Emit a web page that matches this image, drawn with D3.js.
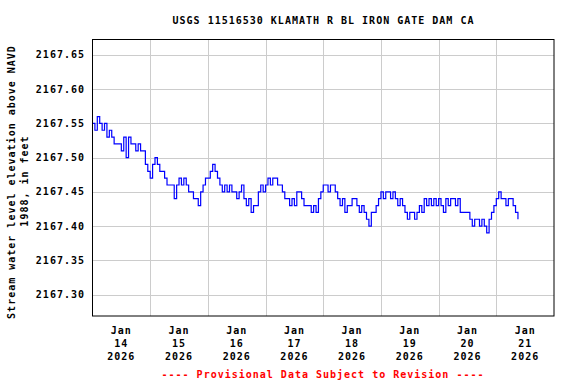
<!DOCTYPE html>
<html>
<head>
<meta charset="utf-8">
<script src="https://cdn.jsdelivr.net/npm/d3@7"></script>
<style>
  body { margin: 0; background: #fff; }
  svg text { font-family: "DejaVu Sans Mono", monospace; font-weight: bold; font-size: 10px; letter-spacing: 1px; }
</style>
</head>
<body>
<div id="chart"></div>
<script>
// hourly readings (ft), starting Jan 14 2026 00:00
var jan14 = [2167.55, 2167.54, 2167.56, 2167.55, 2167.54, 2167.55, 2167.53, 2167.54, 2167.53, 2167.52, 2167.52, 2167.52,
             2167.51, 2167.53, 2167.50, 2167.53, 2167.52, 2167.52, 2167.51, 2167.52, 2167.51, 2167.51, 2167.49, 2167.48];
var jan15 = [2167.47, 2167.49, 2167.50, 2167.49, 2167.48, 2167.48, 2167.47, 2167.46, 2167.46, 2167.46, 2167.44, 2167.46,
             2167.47, 2167.46, 2167.47, 2167.46, 2167.45, 2167.45, 2167.44, 2167.44, 2167.43, 2167.45, 2167.46, 2167.47];
var jan16 = [2167.47, 2167.48, 2167.49, 2167.48, 2167.47, 2167.46, 2167.45, 2167.46, 2167.45, 2167.46, 2167.45, 2167.45,
             2167.44, 2167.45, 2167.46, 2167.44, 2167.43, 2167.44, 2167.42, 2167.43, 2167.43, 2167.45, 2167.46, 2167.45];
var jan17 = [2167.46, 2167.47, 2167.46, 2167.47, 2167.47, 2167.46, 2167.46, 2167.45, 2167.44, 2167.44, 2167.43, 2167.44,
             2167.43, 2167.45, 2167.45, 2167.44, 2167.43, 2167.43, 2167.43, 2167.42, 2167.43, 2167.42, 2167.44, 2167.45];
var jan18 = [2167.46, 2167.46, 2167.45, 2167.46, 2167.46, 2167.45, 2167.44, 2167.43, 2167.44, 2167.42, 2167.43, 2167.43,
             2167.44, 2167.44, 2167.43, 2167.42, 2167.43, 2167.42, 2167.41, 2167.40, 2167.42, 2167.42, 2167.43, 2167.44];
var jan19 = [2167.45, 2167.44, 2167.45, 2167.45, 2167.44, 2167.45, 2167.44, 2167.43, 2167.44, 2167.43, 2167.42, 2167.41,
             2167.42, 2167.42, 2167.41, 2167.42, 2167.43, 2167.42, 2167.44, 2167.43, 2167.44, 2167.43, 2167.44, 2167.43];
var jan20 = [2167.44, 2167.43, 2167.42, 2167.44, 2167.43, 2167.44, 2167.44, 2167.43, 2167.44, 2167.42, 2167.42, 2167.42,
             2167.42, 2167.41, 2167.40, 2167.41, 2167.41, 2167.40, 2167.41, 2167.40, 2167.39, 2167.41, 2167.42, 2167.43];
var jan21 = [2167.44, 2167.45, 2167.44, 2167.44, 2167.43, 2167.44, 2167.44, 2167.43, 2167.42, 2167.41];

var yTicks = [2167.30, 2167.35, 2167.40, 2167.45, 2167.50, 2167.55, 2167.60, 2167.65];
var tickDays = ["14", "15", "16", "17", "18", "19", "20", "21"];
var tickMonth = "Jan";
var tickYear = "2026";

var title = "USGS 11516530 KLAMATH R BL IRON GATE DAM CA";
var yTitle = ["Stream water level elevation above NAVD", "1988, in feet"];
var footer = "---- Provisional Data Subject to Revision ----";

var width = 576, height = 384;
var margin = {left: 92.5, right: 22, top: 39.5, bottom: 68};

var values = [].concat(jan14, jan15, jan16, jan17, jan18, jan19, jan20, jan21);
var t0 = Date.UTC(2026, 0, 14);
var data = values.map(function(v, i) { return {t: new Date(t0 + i * 3600000), v: v}; });

var x = d3.scaleUtc()
  .domain([new Date(Date.UTC(2026, 0, 14)), new Date(Date.UTC(2026, 0, 22))])
  .range([margin.left, width - margin.right]);

var y = d3.scaleLinear()
  .domain([2167.2686, 2167.6726])
  .range([height - margin.bottom, margin.top]);

var svg = d3.select("#chart").append("svg")
  .attr("width", width)
  .attr("height", height);

// grid
var dayLines = d3.range(1, 8).map(function(d) { return new Date(t0 + d * 86400000); });
svg.append("g").selectAll("line")
  .data(dayLines)
  .enter().append("line")
  .attr("x1", function(d) { return Math.round(x(d)) + 0.5; })
  .attr("x2", function(d) { return Math.round(x(d)) + 0.5; })
  .attr("y1", margin.top)
  .attr("y2", height - margin.bottom)
  .attr("stroke", "#cccccc");

svg.append("g").selectAll("line")
  .data(yTicks)
  .enter().append("line")
  .attr("x1", margin.left)
  .attr("x2", width - margin.right)
  .attr("y1", function(d) { return Math.round(y(d)) + 0.5; })
  .attr("y2", function(d) { return Math.round(y(d)) + 0.5; })
  .attr("stroke", "#cccccc");

// the data line
var line = d3.line()
  .x(function(d) { return x(d.t); })
  .y(function(d) { return y(d.v); })
  .curve(d3.curveStepAfter);

svg.append("path")
  .datum(data)
  .attr("d", line)
  .attr("fill", "none")
  .attr("stroke", "#0000ff")
  .attr("stroke-width", 1.2);

// frame
svg.append("rect")
  .attr("x", margin.left)
  .attr("y", margin.top)
  .attr("width", width - margin.right - margin.left)
  .attr("height", height - margin.bottom - margin.top)
  .attr("fill", "none")
  .attr("stroke", "#000");

// y labels
svg.append("g").selectAll("text")
  .data(yTicks)
  .enter().append("text")
  .attr("x", 85)
  .attr("y", function(d) { return y(d) + 3.5; })
  .attr("text-anchor", "end")
  .text(function(d) { return d3.format(".2f")(d); });

// x labels, centred on each day
var xl = svg.append("g").selectAll("g")
  .data(tickDays)
  .enter().append("g")
  .attr("transform", function(d, i) {
    return "translate(" + x(new Date(t0 + (i + 0.5) * 86400000)) + ",0)";
  });
xl.append("text").attr("y", 334).attr("text-anchor", "middle").text(tickMonth);
xl.append("text").attr("y", 347).attr("text-anchor", "middle").text(function(d) { return d; });
xl.append("text").attr("y", 359.5).attr("text-anchor", "middle").text(tickYear);

// titles
svg.append("text")
  .attr("x", 323.5)
  .attr("y", 24)
  .attr("text-anchor", "middle")
  .text(title);

svg.append("text")
  .attr("transform", "translate(15,182) rotate(-90)")
  .attr("text-anchor", "middle")
  .text(yTitle[0]);
svg.append("text")
  .attr("transform", "translate(28,181) rotate(-90)")
  .attr("text-anchor", "middle")
  .text(yTitle[1]);

svg.append("text")
  .attr("x", 323)
  .attr("y", 378)
  .attr("text-anchor", "middle")
  .attr("fill", "#ff0000")
  .text(footer);
</script>
</body>
</html>
